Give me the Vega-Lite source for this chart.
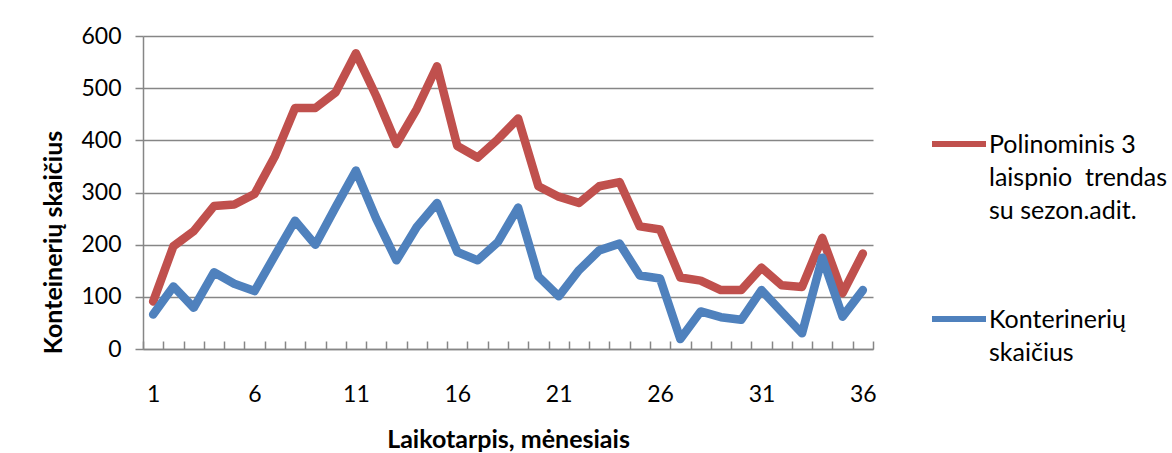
{
  "$schema": "https://vega.github.io/schema/vega-lite/v6.json",
  "autosize": {"type": "none"},
  "padding": {"left": 143, "top": 36, "right": 299, "bottom": 104},
  "width": 730,
  "height": 313,
  "background": "white",
  "config": {
    "font": "Lato",
    "view": {"stroke": null},
    "axis": {
      "labelFont": "Lato",
      "labelFontSize": 23,
      "labelColor": "black",
      "titleFont": "Lato",
      "titleFontSize": 25,
      "titleFontWeight": "bold",
      "titleColor": "black",
      "domainColor": "#868686",
      "domainWidth": 1.5,
      "tickColor": "#868686",
      "tickWidth": 1.5,
      "gridColor": "#868686",
      "gridWidth": 1.5
    }
  },
  "data": {
    "values": [
      {"m": 1, "trend": 91, "count": 66},
      {"m": 2, "trend": 197, "count": 120},
      {"m": 3, "trend": 226, "count": 79},
      {"m": 4, "trend": 274, "count": 147},
      {"m": 5, "trend": 277, "count": 125},
      {"m": 6, "trend": 297, "count": 111},
      {"m": 7, "trend": 369, "count": 179},
      {"m": 8, "trend": 462, "count": 246},
      {"m": 9, "trend": 462, "count": 200},
      {"m": 10, "trend": 492, "count": 272},
      {"m": 11, "trend": 567, "count": 342},
      {"m": 12, "trend": 485, "count": 250},
      {"m": 13, "trend": 393, "count": 170},
      {"m": 14, "trend": 460, "count": 234},
      {"m": 15, "trend": 542, "count": 280},
      {"m": 16, "trend": 389, "count": 186},
      {"m": 17, "trend": 367, "count": 170},
      {"m": 18, "trend": 402, "count": 205},
      {"m": 19, "trend": 442, "count": 271},
      {"m": 20, "trend": 312, "count": 139},
      {"m": 21, "trend": 292, "count": 101},
      {"m": 22, "trend": 280, "count": 151},
      {"m": 23, "trend": 312, "count": 189},
      {"m": 24, "trend": 320, "count": 202},
      {"m": 25, "trend": 235, "count": 141},
      {"m": 26, "trend": 229, "count": 135},
      {"m": 27, "trend": 137, "count": 19},
      {"m": 28, "trend": 131, "count": 72},
      {"m": 29, "trend": 113, "count": 61},
      {"m": 30, "trend": 113, "count": 56},
      {"m": 31, "trend": 156, "count": 113},
      {"m": 32, "trend": 122, "count": 71},
      {"m": 33, "trend": 119, "count": 30},
      {"m": 34, "trend": 213, "count": 175},
      {"m": 35, "trend": 107, "count": 62},
      {"m": 36, "trend": 183, "count": 113}
    ]
  },
  "encoding": {
    "x": {
      "field": "m",
      "type": "ordinal",
      "scale": {"paddingInner": 0, "paddingOuter": 0},
      "axis": {
        "title": "Laikotarpis, mėnesiais",
        "labelAngle": 0,
        "tickBand": "extent",
        "tickSize": -8,
        "labelPadding": 42,
        "titlePadding": 21,
        "labelExpr": "(datum.value - 1) % 5 == 0 ? datum.label : ''"
      }
    }
  },
  "layer": [
    {
      "mark": {"type": "line", "strokeWidth": 8.5, "strokeJoin": "round", "strokeCap": "round"},
      "encoding": {
        "y": {
          "field": "trend",
          "type": "quantitative",
          "scale": {"domain": [0, 600]},
          "axis": {
            "title": "Konteinerių skaičius",
            "values": [0, 100, 200, 300, 400, 500, 600],
            "tickSize": 8,
            "labelPadding": 14,
            "titlePadding": 14,
            "titleY": 206
          }
        },
        "color": {
          "datum": "Polinominis 3|laispnio\u00a0 trendas|su sezon.adit.",
          "type": "nominal",
          "scale": {
            "domain": ["Polinominis 3|laispnio\u00a0 trendas|su sezon.adit.", "Konterinerių|skaičius"],
            "range": ["#C0504D", "#4F81BD"]
          },
          "legend": {
            "title": null,
            "orient": "none",
            "legendX": 786,
            "legendY": 78,
            "symbolType": "stroke",
            "symbolSize": 2916,
            "symbolStrokeWidth": 6,
            "labelFont": "Lato",
            "labelFontSize": 25,
            "labelColor": "black",
            "labelLimit": 300,
            "labelOffset": 0,
            "labelBaseline": "top",
            "labelExpr": "split(datum.label, '|')",
            "rowPadding": 65,
            "encode": {
              "labels": {"update": {"lineHeight": {"value": 33}, "dy": {"value": -11}}}
            }
          }
        }
      }
    },
    {
      "mark": {"type": "line", "strokeWidth": 8.5, "strokeJoin": "round", "strokeCap": "round"},
      "encoding": {
        "y": {"field": "count", "type": "quantitative"},
        "color": {"datum": "Konterinerių|skaičius", "type": "nominal"}
      }
    }
  ]
}
